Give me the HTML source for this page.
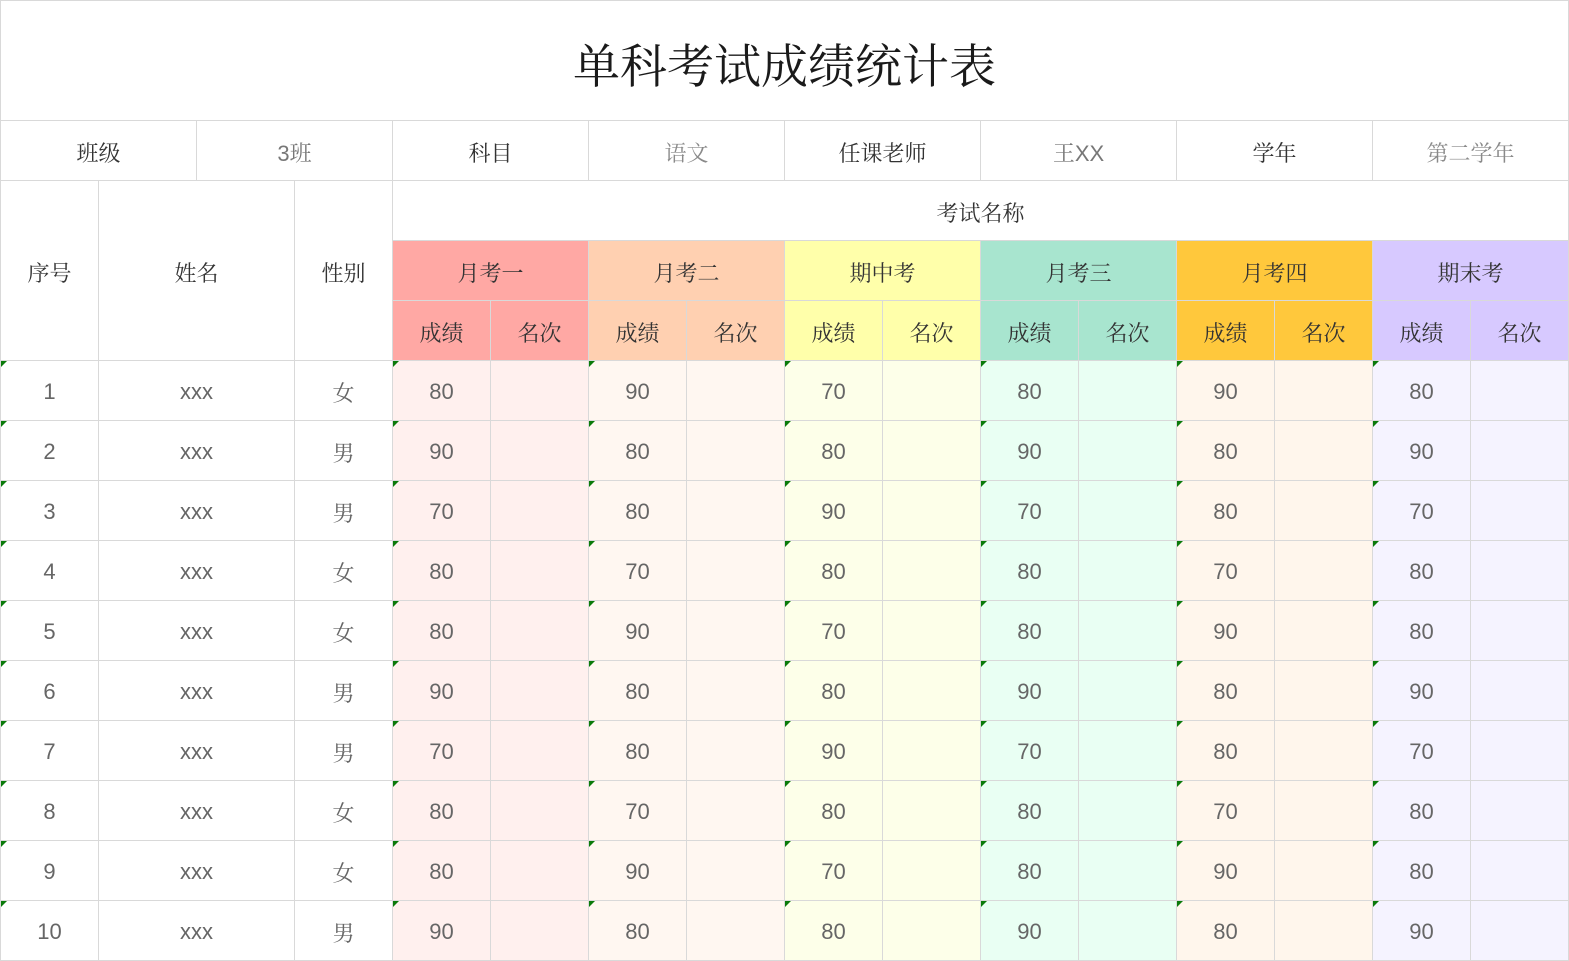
<!DOCTYPE html>
<html>
<head>
<meta charset="utf-8">
<style>
html,body{margin:0;padding:0;background:#fff;}
body{width:1569px;height:961px;overflow:hidden;}
.g{
  position:absolute;left:0;top:0;width:1569px;height:961px;box-sizing:border-box;
  display:grid;background:#d9d9d9;padding:1px;gap:1px;
  grid-template-columns:repeat(16,97px);
  grid-template-rows:119px repeat(14,59px);
  font-family:"Liberation Sans","Noto Serif CJK SC",serif;
}
.g>div{background:#fff;display:flex;align-items:center;justify-content:center;position:relative;font-size:22px;color:#333;padding-top:3px;box-sizing:border-box;}
.t{grid-column:1/17;font-size:47px !important;color:#1a1a1a !important;padding-top:6px !important;font-family:"Liberation Serif","Noto Serif CJK SC",serif !important;}
.s2{grid-column:span 2;}
.v{color:#777 !important;}
.v2{color:#8a8a8a !important;}
.n{color:#666 !important;font-family:"Liberation Sans","Noto Serif CJK SC",sans-serif;}
.n .sx{font-family:"Noto Serif CJK SC",serif;}
.tri::before{content:"";position:absolute;left:0;top:0;width:0;height:0;border-top:6px solid #0a7a0a;border-right:6px solid transparent;}
.h1{background:#ffa8a4 !important}.d1{background:#fff0ee !important}
.h2{background:#ffd0b1 !important}.d2{background:#fff7f1 !important}
.h3{background:#ffffaa !important}.d3{background:#fdffe9 !important}
.h4{background:#a8e5cf !important}.d4{background:#e9fff3 !important}
.h5{background:#ffc83c !important}.d5{background:#fff6ec !important}
.h6{background:#d7c9ff !important}.d6{background:#f5f3ff !important}
</style>
</head>
<body>
<div class="g">
<div class="t">单科考试成绩统计表</div>

<div class="s2">班级</div><div class="s2 v">3班</div>
<div class="s2">科目</div><div class="s2 v2">语文</div>
<div class="s2">任课老师</div><div class="s2 v">王XX</div>
<div class="s2">学年</div><div class="s2 v2">第二学年</div>

<div style="grid-column:1;grid-row:3/6;">序号</div>
<div style="grid-column:2/4;grid-row:3/6;">姓名</div>
<div style="grid-column:4;grid-row:3/6;">性别</div>
<div style="grid-column:5/17;grid-row:3;">考试名称</div>
<div class="h1" style="grid-column:5/7;grid-row:4;">月考一</div>
<div class="h2" style="grid-column:7/9;grid-row:4;">月考二</div>
<div class="h3" style="grid-column:9/11;grid-row:4;">期中考</div>
<div class="h4" style="grid-column:11/13;grid-row:4;">月考三</div>
<div class="h5" style="grid-column:13/15;grid-row:4;">月考四</div>
<div class="h6" style="grid-column:15/17;grid-row:4;">期末考</div>
<div class="h1" style="grid-column:5;grid-row:5;">成绩</div><div class="h1" style="grid-column:6;grid-row:5;">名次</div>
<div class="h2" style="grid-column:7;grid-row:5;">成绩</div><div class="h2" style="grid-column:8;grid-row:5;">名次</div>
<div class="h3" style="grid-column:9;grid-row:5;">成绩</div><div class="h3" style="grid-column:10;grid-row:5;">名次</div>
<div class="h4" style="grid-column:11;grid-row:5;">成绩</div><div class="h4" style="grid-column:12;grid-row:5;">名次</div>
<div class="h5" style="grid-column:13;grid-row:5;">成绩</div><div class="h5" style="grid-column:14;grid-row:5;">名次</div>
<div class="h6" style="grid-column:15;grid-row:5;">成绩</div><div class="h6" style="grid-column:16;grid-row:5;">名次</div>

<div class="n tri">1</div><div class="n s2">xxx</div><div class="n"><span class="sx">女</span></div>
<div class="n tri d1">80</div><div class="d1"></div><div class="n tri d2">90</div><div class="d2"></div><div class="n tri d3">70</div><div class="d3"></div><div class="n tri d4">80</div><div class="d4"></div><div class="n tri d5">90</div><div class="d5"></div><div class="n tri d6">80</div><div class="d6"></div>

<div class="n tri">2</div><div class="n s2">xxx</div><div class="n"><span class="sx">男</span></div>
<div class="n tri d1">90</div><div class="d1"></div><div class="n tri d2">80</div><div class="d2"></div><div class="n tri d3">80</div><div class="d3"></div><div class="n tri d4">90</div><div class="d4"></div><div class="n tri d5">80</div><div class="d5"></div><div class="n tri d6">90</div><div class="d6"></div>

<div class="n tri">3</div><div class="n s2">xxx</div><div class="n"><span class="sx">男</span></div>
<div class="n tri d1">70</div><div class="d1"></div><div class="n tri d2">80</div><div class="d2"></div><div class="n tri d3">90</div><div class="d3"></div><div class="n tri d4">70</div><div class="d4"></div><div class="n tri d5">80</div><div class="d5"></div><div class="n tri d6">70</div><div class="d6"></div>

<div class="n tri">4</div><div class="n s2">xxx</div><div class="n"><span class="sx">女</span></div>
<div class="n tri d1">80</div><div class="d1"></div><div class="n tri d2">70</div><div class="d2"></div><div class="n tri d3">80</div><div class="d3"></div><div class="n tri d4">80</div><div class="d4"></div><div class="n tri d5">70</div><div class="d5"></div><div class="n tri d6">80</div><div class="d6"></div>

<div class="n tri">5</div><div class="n s2">xxx</div><div class="n"><span class="sx">女</span></div>
<div class="n tri d1">80</div><div class="d1"></div><div class="n tri d2">90</div><div class="d2"></div><div class="n tri d3">70</div><div class="d3"></div><div class="n tri d4">80</div><div class="d4"></div><div class="n tri d5">90</div><div class="d5"></div><div class="n tri d6">80</div><div class="d6"></div>

<div class="n tri">6</div><div class="n s2">xxx</div><div class="n"><span class="sx">男</span></div>
<div class="n tri d1">90</div><div class="d1"></div><div class="n tri d2">80</div><div class="d2"></div><div class="n tri d3">80</div><div class="d3"></div><div class="n tri d4">90</div><div class="d4"></div><div class="n tri d5">80</div><div class="d5"></div><div class="n tri d6">90</div><div class="d6"></div>

<div class="n tri">7</div><div class="n s2">xxx</div><div class="n"><span class="sx">男</span></div>
<div class="n tri d1">70</div><div class="d1"></div><div class="n tri d2">80</div><div class="d2"></div><div class="n tri d3">90</div><div class="d3"></div><div class="n tri d4">70</div><div class="d4"></div><div class="n tri d5">80</div><div class="d5"></div><div class="n tri d6">70</div><div class="d6"></div>

<div class="n tri">8</div><div class="n s2">xxx</div><div class="n"><span class="sx">女</span></div>
<div class="n tri d1">80</div><div class="d1"></div><div class="n tri d2">70</div><div class="d2"></div><div class="n tri d3">80</div><div class="d3"></div><div class="n tri d4">80</div><div class="d4"></div><div class="n tri d5">70</div><div class="d5"></div><div class="n tri d6">80</div><div class="d6"></div>

<div class="n tri">9</div><div class="n s2">xxx</div><div class="n"><span class="sx">女</span></div>
<div class="n tri d1">80</div><div class="d1"></div><div class="n tri d2">90</div><div class="d2"></div><div class="n tri d3">70</div><div class="d3"></div><div class="n tri d4">80</div><div class="d4"></div><div class="n tri d5">90</div><div class="d5"></div><div class="n tri d6">80</div><div class="d6"></div>

<div class="n tri">10</div><div class="n s2">xxx</div><div class="n"><span class="sx">男</span></div>
<div class="n tri d1">90</div><div class="d1"></div><div class="n tri d2">80</div><div class="d2"></div><div class="n tri d3">80</div><div class="d3"></div><div class="n tri d4">90</div><div class="d4"></div><div class="n tri d5">80</div><div class="d5"></div><div class="n tri d6">90</div><div class="d6"></div>
</div>
</body>
</html>
